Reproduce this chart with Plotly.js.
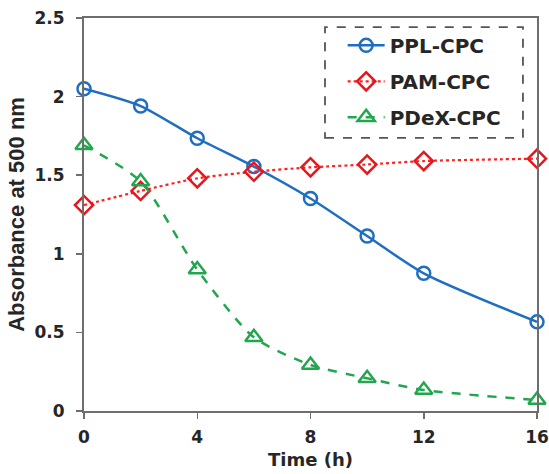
<!DOCTYPE html>
<html>
<head>
<meta charset="utf-8">
<script src="https://cdn.plot.ly/plotly-3.0.1.min.js"></script>
<style>html,body{margin:0;padding:0;background:#fff}#chart{width:549px;height:474px}</style>
</head>
<body>
<div id="chart"></div>
<script>
var timeH = [0, 2, 4, 6, 8, 10, 12, 16];
var pplCPC = [2.05, 1.94, 1.735, 1.555, 1.352, 1.113, 0.876, 0.567];
var pamCPC = [1.31, 1.40, 1.48, 1.522, 1.55, 1.568, 1.59, 1.605];
var pdexCPC = [1.69, 1.46, 0.90, 0.469, 0.293, 0.208, 0.134, 0.07];
var seriesNames = ['PPL-CPC', 'PAM-CPC', 'PDeX-CPC'];
var xTicks = [0, 4, 8, 12, 16];
var yTicks = [0, 0.5, 1, 1.5, 2, 2.5];
var yTickText = ['0', '0.5', '1', '1.5', '2', '2.5'];

var font = '"DejaVu Sans", Arial, sans-serif';
var arial = 'Arial, "Liberation Sans", sans-serif';
var txt = '#262626';
var traces = [
  {x: timeH, y: pplCPC, name: seriesNames[0], mode: 'lines+markers', legendgroup: 'a',
   line: {color: '#1F6EC0', width: 2.5, shape: 'spline', smoothing: 0.7},
   marker: {symbol: 'circle-open', size: 13, color: '#1F6EC0', line: {width: 2.5, color: '#1F6EC0'}}},
  {x: timeH, y: pamCPC, name: seriesNames[1], mode: 'lines+markers', legendgroup: 'b',
   line: {color: '#FF2020', width: 2.2, dash: 'dot', shape: 'spline', smoothing: 0.7},
   marker: {symbol: 'diamond-open', size: 14, color: '#E8161B', line: {width: 2.5, color: '#E8161B'}}},
  {x: timeH, y: pdexCPC, name: seriesNames[2], mode: 'lines+markers', legendgroup: 'c',
   line: {color: '#22A650', width: 2.5, dash: 'dash', shape: 'spline', smoothing: 0.7},
   marker: {symbol: 'triangle-up-open', size: 15, color: '#22A650', line: {width: 2.5, color: '#22A650'}}}
];
traces.forEach(function(t){ t.cliponaxis = false; });

var layout = {
  width: 549, height: 474,
  margin: {l: 84, r: 12, t: 18, b: 63},
  paper_bgcolor: '#fff', plot_bgcolor: '#fff',
  font: {family: font, color: txt},
  showlegend: true,
  legend: {x: 0.571, y: 0.98, xanchor: 'left', yanchor: 'top', bgcolor: 'rgba(0,0,0,0)',
           borderwidth: 0, traceorder: 'grouped', tracegroupgap: 7, itemwidth: 37,
           font: {family: font, size: 20, color: txt, weight: 'bold'}},
  xaxis: {range: [0, 16], tickvals: xTicks, ticktext: xTicks.map(String), showgrid: false, zeroline: false,
          showline: true, linecolor: '#6e6e6e', linewidth: 2, mirror: true,
          ticks: 'outside', ticklen: 6, tickwidth: 1.5, tickcolor: '#6e6e6e', ticklabelstandoff: 4,
          tickfont: {family: font, size: 17, color: txt, weight: 'bold'},
          title: {text: 'Time (h)', standoff: 7, font: {family: font, size: 18, color: txt, weight: 'bold'}}},
  yaxis: {range: [0, 2.5], tickvals: yTicks, ticktext: yTickText, showgrid: false, zeroline: false,
          showline: true, linecolor: '#6e6e6e', linewidth: 2, mirror: true,
          ticks: 'outside', ticklen: 6, tickwidth: 1.5, tickcolor: '#6e6e6e', ticklabelstandoff: 8,
          tickfont: {family: font, size: 17, color: txt, weight: 'bold'},
          title: {text: 'Absorbance at 500 nm', standoff: 4, font: {family: arial, size: 22, color: txt, weight: 'bold'}}},
  shapes: [{type: 'rect', xref: 'paper', yref: 'paper', x0: 0.532, x1: 0.969, y0: 0.695, y1: 0.977,
            line: {color: '#555', width: 1.8, dash: 'dash'}, fillcolor: 'rgba(0,0,0,0)'}]
};

Plotly.newPlot('chart', traces, layout, {displayModeBar: false, staticPlot: true});
</script>
</body>
</html>
